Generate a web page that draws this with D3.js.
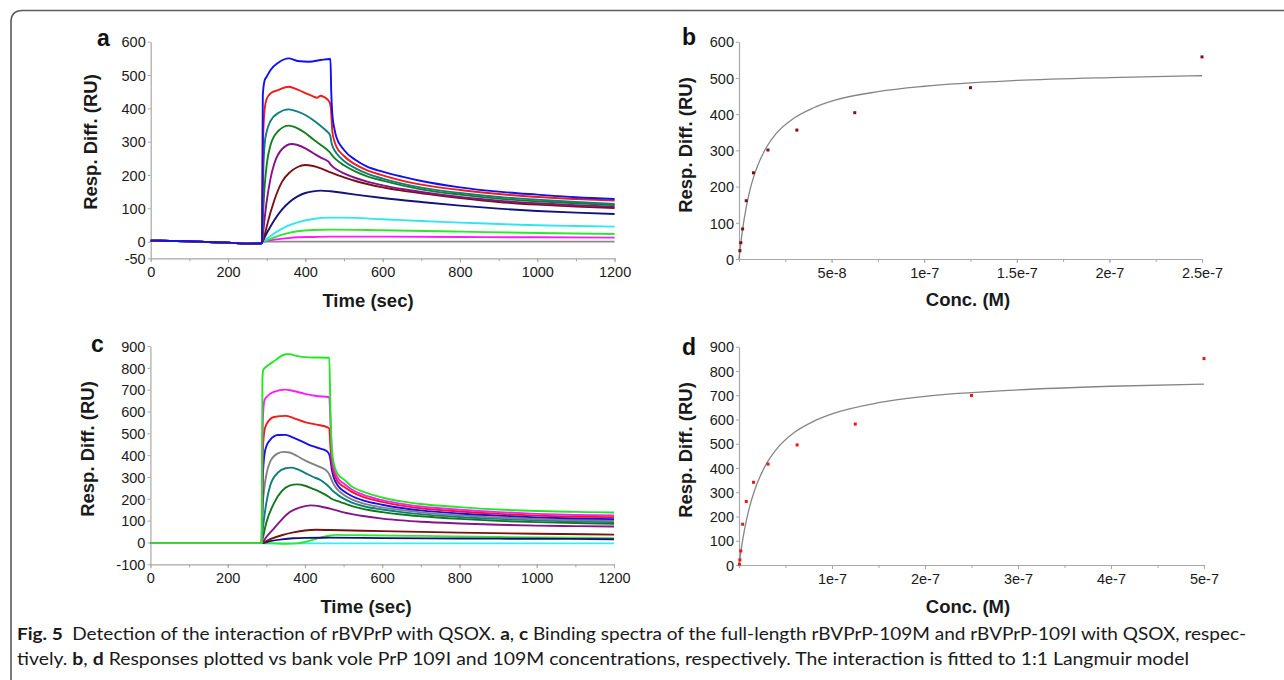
<!DOCTYPE html>
<html>
<head>
<meta charset="utf-8">
<script src="https://cdn.jsdelivr.net/npm/d3@7"></script>
<style>
  body { margin: 0; background: #fff; }
</style>
</head>
<body>
<div id="fig"></div>
<script>
/* ---------- panel a : sensorgram rBVPrP-109M (time sec, RU) ---------- */
var aBaseline = [[0,3],[50,2],[100,1],[150,-1],[200,-3],[255,-6],[286,-5]];
var aGray    = [[288,0],[1200,0]];
var aMagenta = [[288,-2],[300,2],[320,6],[350,10],[380,13],[420,14],[465,15],[600,15],[800,14],[1000,13],[1200,12]];
var aLime    = [[288,-2],[300,4],[320,13],[350,24],[380,31],[420,35],[465,36],[600,34],[800,30],[1000,26],[1200,23]];
var aCyan    = [[288,-2],[300,8],[320,25],[350,45],[380,58],[420,68],[465,72],[500,72],[600,67],[700,62],[800,57],[900,53],[1000,49],[1100,47],[1200,45]];
var aNavy    = [[288,-2],[300,25],[320,65],[340,97],[360,120],[380,136],[400,146],[420,151],[440,153],[465,151],[500,146],[550,138],[600,131],[700,119],[800,108],[900,99],[1000,92],[1100,87],[1200,83]];
var aMaroon  = [[288,-2],[295,20],[300,45],[320,125],[340,180],[360,208],[380,224],[400,230],[420,227],[440,220],[465,208],[480,201],[500,193],[530,182],[560,173],[600,163],[650,153],[700,145],[800,131],[900,119],[1000,111],[1100,105],[1200,101]];
var aPurple  = [[288,-2],[292,40],[300,120],[310,190],[320,235],[340,278],[365,293],[380,290],[400,280],[420,266],[440,252],[460,240],[465,232],[470,226],[480,217],[500,205],[530,191],[560,180],[600,169],[650,158],[700,149],[800,134],[900,123],[1000,115],[1100,109],[1200,105]];
var aGreen   = [[288,-2],[291,90],[295,170],[300,230],[310,290],[330,332],[357,348],[380,340],[400,326],[420,307],[440,290],[455,277],[465,266],[470,258],[480,246],[500,229],[530,210],[560,196],[600,183],[650,169],[700,157],[800,141],[900,129],[1000,121],[1100,115],[1200,110]];
var aTeal    = [[288,-2],[291,200],[295,295],[300,330],[310,362],[330,386],[357,397],[380,390],[400,380],[420,365],[440,347],[455,332],[464,320],[468,295],[475,275],[480,266],[500,242],[530,220],[560,204],[600,189],[650,174],[700,162],[800,146],[900,134],[1000,126],[1100,119],[1200,113]];
var aRed     = [[288,-2],[291,320],[295,400],[300,428],[310,445],[330,455],[357,465],[380,456],[400,446],[420,436],[430,432],[440,438],[450,433],[463,418],[466,400],[470,330],[475,302],[480,286],[500,257],[530,231],[560,214],[600,199],[650,183],[700,171],[800,155],[900,143],[1000,134],[1100,128],[1200,123]];
var aBlue    = [[288,-2],[290,440],[295,485],[300,495],[310,515],[330,537],[357,550],[380,542],[410,540],[440,545],[463,548],[465,548],[467,450],[470,380],[475,340],[480,315],[500,275],[530,245],[560,225],[600,210],[650,195],[700,182],[800,163],[900,150],[1000,141],[1100,133],[1200,128]];
var aColors  = ["#8a8a8a","#ff1aff","#2ee82e","#2ee6f2","#12127e","#7c0f14","#86108a","#13801e","#0d7f7f","#f21a1a","#1010f0"];

/* ---------- panel c : sensorgram rBVPrP-109I ---------- */
var cBaseline = [[0,-3],[100,-3],[200,-3],[286,-3]];
var cCyan     = [[288,-4],[1200,-4]];
var cLight    = [[288,-3],[320,-4],[350,-6],[380,-4],[400,2],[420,12],[440,22],[465,32],[480,35],[550,33],[700,30],[900,25],[1100,22],[1200,20]];
var cNavy     = [[288,-3],[310,6],[340,14],[370,19],[400,21],[465,22],[600,20],[800,18],[1000,17],[1200,15]];
var cMaroon   = [[288,-3],[310,15],[340,33],[370,46],[400,55],[430,58],[465,57],[600,52],[800,45],[1000,40],[1200,36]];
var cPurple   = [[288,-3],[300,25],[320,65],[340,105],[360,138],[390,162],[415,170],[440,165],[465,155],[500,138],[550,121],[600,109],[650,101],[700,95],[800,87],[900,81],[1000,77],[1100,75],[1200,73]];
var cDkGreen  = [[288,-3],[291,20],[300,90],[320,180],[340,235],[360,260],[380,266],[400,260],[420,246],[440,231],[455,217],[465,205],[470,199],[485,189],[500,180],[520,168],[550,154],[600,139],[650,128],[700,120],[800,108],[900,99],[1000,93],[1100,89],[1200,86]];
var cTeal     = [[288,-3],[291,60],[295,120],[300,180],[310,260],[330,320],[350,340],[365,343],[380,336],[400,319],[420,301],[440,286],[455,267],[465,250],[470,240],[478,228],[485,218],[500,201],[520,184],[550,167],[600,151],[650,139],[700,130],[800,117],[900,108],[1000,101],[1100,96],[1200,93]];
var cGray     = [[288,-3],[291,170],[295,250],[300,310],[310,370],[330,408],[345,415],[360,412],[380,396],[400,376],[420,360],[440,345],[455,330],[463,312],[466,300],[472,275],[478,256],[485,241],[500,219],[520,199],[550,179],[600,161],[650,148],[700,138],[800,124],[900,114],[1000,107],[1100,102],[1200,99]];
var cBlue     = [[288,-3],[291,300],[295,400],[300,440],[310,470],[330,492],[350,493],[370,480],[400,456],[420,441],[440,430],[455,420],[463,403],[466,380],[470,330],[475,295],[480,275],[490,250],[500,236],[520,214],[550,193],[600,173],[650,158],[700,147],[800,133],[900,123],[1000,115],[1100,110],[1200,107]];
var cRed      = [[288,-3],[291,420],[295,510],[300,540],[320,575],[350,580],[370,570],[400,551],[430,540],[460,526],[463,522],[466,440],[470,360],[475,318],[480,295],[490,268],[500,256],[520,233],[550,209],[600,186],[650,169],[700,157],[800,142],[900,131],[1000,123],[1100,118],[1200,116]];
var cMagenta  = [[288,-3],[291,560],[295,650],[300,665],[320,690],[350,700],[370,694],[400,681],[430,671],[463,665],[466,560],[470,400],[475,340],[480,312],[490,285],[500,271],[520,244],[550,219],[600,194],[650,177],[700,165],[800,150],[900,139],[1000,131],[1100,126],[1200,124]];
var cLime     = [[288,-3],[290,750],[292,790],[300,805],[320,830],[350,862],[360,863],[375,856],[410,848],[463,846],[466,600],[470,420],[475,360],[480,330],[490,303],[500,290],[520,258],[550,233],[600,206],[650,188],[700,176],[800,162],[900,151],[1000,144],[1100,140],[1200,137]];
var cColors   = ["#2ef0f8","#30e830","#10107c","#7a1010","#84148a","#10781a","#0e7f7f","#808080","#1010f0","#f21a1a","#ff1aff","#22e822"];

/* ---------- panel b : steady state 109M ---------- */
var bConc  = [4.9e-10, 9.8e-10, 1.95e-9, 3.9e-9, 7.8e-9, 1.5625e-8, 3.125e-8, 6.25e-8, 1.25e-7, 2.5e-7];
var bResp  = [23, 45, 83, 161, 238, 301, 356, 404, 473, 558];
var bFitConc = [0, 2e-9, 4e-9, 6e-9, 8e-9, 1e-8, 1.5e-8, 2e-8, 3e-8, 4e-8, 5e-8, 7.5e-8, 1e-7, 1.5e-7, 2e-7, 2.5e-7];
var bFitResp = [0, 84, 145, 192, 228, 257, 310, 346, 390, 417, 436, 462, 477, 493, 501, 506];

/* ---------- panel d : steady state 109I ---------- */
var dConc  = [4.9e-10, 9.8e-10, 1.95e-9, 3.9e-9, 7.8e-9, 1.5625e-8, 3.125e-8, 6.25e-8, 1.25e-7, 2.5e-7, 5e-7];
var dResp  = [3, 21, 58, 168, 262, 341, 416, 495, 581, 699, 851];
var dFitConc = [0, 4e-9, 8e-9, 1.2e-8, 1.6e-8, 2e-8, 3e-8, 4e-8, 6e-8, 8e-8, 1e-7, 1.5e-7, 2e-7, 3e-7, 4e-7, 5e-7];
var dFitResp = [0, 105, 185, 248, 299, 341, 421, 476, 548, 592, 623, 669, 695, 722, 737, 746];

var timeTicks = [0, 200, 400, 600, 800, 1000, 1200];
var aYTicks = [-50, 0, 100, 200, 300, 400, 500, 600];
var cYTicks = [-100, 0, 100, 200, 300, 400, 500, 600, 700, 800, 900];
var bTicks = [5e-8, 1e-7, 1.5e-7, 2e-7, 2.5e-7];
var bTickLabels = ["5e-8", "1e-7", "1.5e-7", "2e-7", "2.5e-7"];
var dTicks = [1e-7, 2e-7, 3e-7, 4e-7, 5e-7];
var dTickLabels = ["1e-7", "2e-7", "3e-7", "4e-7", "5e-7"];

var FONT = "'Liberation Sans', Arial, sans-serif";

var svg = d3.select("#fig").append("svg")
    .attr("width", 1284)
    .attr("height", 680);

// figure frame (top + left with rounded corner)
svg.append("path")
    .attr("d", "M11,682 L11,22 Q11,10.5 22.5,10.5 L1286,10.5")
    .attr("fill", "none")
    .attr("stroke", "#5a5a5a")
    .attr("stroke-width", 1.6);

function styleAxis(g) {
  g.attr("font-family", FONT).attr("font-size", 14.5);
  g.select(".domain").attr("stroke", "#a8a8a8").attr("stroke-width", 1.2);
  g.selectAll(".tick line").attr("stroke", "#a8a8a8");
  g.selectAll(".tick text").attr("fill", "#1a1a1a");
}

function drawAxes(x, y, opt) {
  var gx = svg.append("g")
      .attr("transform", "translate(0," + y.range()[0] + ")");
  gx.call(d3.axisBottom(x).tickValues(opt.xMinor).tickSize(3).tickFormat("").tickSizeOuter(0));
  styleAxis(gx);
  var gx2 = svg.append("g")
      .attr("transform", "translate(0," + y.range()[0] + ")")
      .call(d3.axisBottom(x).tickValues(opt.xTicks).tickSize(4).tickSizeOuter(0)
            .tickFormat(function(d, i) { return opt.xLabels ? opt.xLabels[i] : String(d); }));
  styleAxis(gx2);
  gx2.select(".domain").remove();
  gx2.selectAll(".tick text").attr("dy", "1.0em").attr("y", 4);

  var gy = svg.append("g")
      .attr("transform", "translate(" + x.range()[0] + ",0)")
      .call(d3.axisLeft(y).tickValues(opt.yTicks).tickSize(3).tickSizeOuter(0).tickPadding(2)
            .tickFormat(function(d) { return String(d); }));
  styleAxis(gy);
  gy.selectAll(".tick text").attr("dy", "0.36em");

  svg.append("text")
      .attr("font-family", FONT).attr("font-size", 18.5).attr("font-weight", "bold")
      .attr("fill", "#1a1a1a")
      .attr("text-anchor", "middle")
      .attr("x", opt.xTitle[0]).attr("y", opt.xTitle[1])
      .text(opt.xTitle[2]);
  svg.append("text")
      .attr("font-family", FONT).attr("font-size", 18.5).attr("font-weight", "bold")
      .attr("fill", "#1a1a1a")
      .attr("text-anchor", "middle")
      .attr("transform", "translate(" + opt.yTitle[0] + "," + opt.yTitle[1] + ") rotate(-90)")
      .text("Resp. Diff. (RU)");
  svg.append("text")
      .attr("font-family", FONT).attr("font-size", 23).attr("font-weight", "bold")
      .attr("fill", "#111")
      .attr("x", opt.letter[0]).attr("y", opt.letter[1])
      .text(opt.letter[2]);
}

function drawSensorgram(xr, yr, yDomain, yTicks, baseline, series, colors, letter, title) {
  var x = d3.scaleLinear().domain([0, 1200]).range(xr);
  var y = d3.scaleLinear().domain(yDomain).range(yr);
  drawAxes(x, y, {
    xTicks: timeTicks,
    xMinor: d3.range(0, 1201, 100),
    yTicks: yTicks,
    xTitle: [title[0], title[1], "Time (sec)"],
    yTitle: [letter[3], letter[4]],
    letter: letter
  });
  var line = d3.line()
      .x(function(d) { return x(d[0]); })
      .y(function(d) { return y(d[1]); })
      .curve(d3.curveMonotoneX);
  series.forEach(function(s, i) {
    svg.append("path")
        .attr("d", line(baseline.concat(s)))
        .attr("fill", "none")
        .attr("stroke", colors[i])
        .attr("stroke-width", 1.9)
        .attr("stroke-linejoin", "round");
  });
}

function drawLangmuir(xr, yr, xDomain, yDomain, yTicks, ticks, labels, minor, conc, resp, fitC, fitR, dotColor, letter, titleY) {
  var x = d3.scaleLinear().domain(xDomain).range(xr);
  var y = d3.scaleLinear().domain(yDomain).range(yr);
  drawAxes(x, y, {
    xTicks: ticks,
    xLabels: labels,
    xMinor: minor,
    yTicks: yTicks,
    xTitle: [968, titleY, "Conc. (M)"],
    yTitle: [letter[3], letter[4]],
    letter: letter
  });
  var fit = fitC.map(function(c, i) { return [c, fitR[i]]; });
  svg.append("path")
      .attr("d", d3.line()
          .x(function(d) { return x(d[0]); })
          .y(function(d) { return y(d[1]); })
          .curve(d3.curveMonotoneX)(fit))
      .attr("fill", "none")
      .attr("stroke", "#858585")
      .attr("stroke-width", 1.3);
  svg.selectAll(null)
      .data(conc.map(function(c, i) { return [c, resp[i]]; }))
      .enter().append("rect")
      .attr("x", function(d) { return x(d[0]) - 1.5; })
      .attr("y", function(d) { return y(d[1]) - 1.5; })
      .attr("width", 3).attr("height", 3)
      .attr("fill", dotColor);
}

drawSensorgram([150.7, 614.6], [258.3, 41.7], [-50, 600], aYTicks,
    aBaseline,
    [aGray, aMagenta, aLime, aCyan, aNavy, aMaroon, aPurple, aGreen, aTeal, aRed, aBlue],
    aColors, [97, 46, "a", 97, 142], [368, 307]);

drawSensorgram([150.4, 614], [564.3, 346], [-100, 900], cYTicks,
    cBaseline,
    [cCyan, cLight, cNavy, cMaroon, cPurple, cDkGreen, cTeal, cGray, cBlue, cRed, cMagenta, cLime],
    cColors, [91, 352, "c", 94, 449], [366, 613]);

drawLangmuir([739, 1202], [259, 41.7], [0, 2.5e-7], [0, 600], d3.range(0, 601, 100),
    bTicks, bTickLabels, d3.range(0, 2.51e-7, 2.5e-8),
    bConc, bResp, bFitConc, bFitResp, "#8b0a0a", [682, 45, "b", 692, 145], 306);

drawLangmuir([739, 1204], [565, 346.7], [0, 5e-7], [0, 900], d3.range(0, 901, 100),
    dTicks, dTickLabels, d3.range(0, 5.01e-7, 5e-8),
    dConc, dResp, dFitConc, dFitResp, "#f01414", [682, 355, "d", 692, 450], 613);

// caption
var cap1 = svg.append("text")
    .attr("font-family", "Lato, 'Open Sans', sans-serif").attr("font-size", 17.5).attr("fill", "#1a1a1a")
    .attr("x", 17).attr("y", 640)
    .attr("textLength", 1229).attr("lengthAdjust", "spacingAndGlyphs");
cap1.append("tspan").attr("font-weight", "bold").text("Fig. 5");
cap1.append("tspan").text("\u2002Detection of the interaction of rBVPrP with QSOX. ");
cap1.append("tspan").attr("font-weight", "bold").text("a");
cap1.append("tspan").text(", ");
cap1.append("tspan").attr("font-weight", "bold").text("c");
cap1.append("tspan").text(" Binding spectra of the full-length rBVPrP-109M and rBVPrP-109I with QSOX, respec-");

var cap2 = svg.append("text")
    .attr("font-family", "Lato, 'Open Sans', sans-serif").attr("font-size", 17.5).attr("fill", "#1a1a1a")
    .attr("x", 17).attr("y", 665)
    .attr("textLength", 1172).attr("lengthAdjust", "spacingAndGlyphs");
cap2.append("tspan").text("tively. ");
cap2.append("tspan").attr("font-weight", "bold").text("b");
cap2.append("tspan").text(", ");
cap2.append("tspan").attr("font-weight", "bold").text("d");
cap2.append("tspan").text(" Responses plotted vs bank vole PrP 109I and 109M concentrations, respectively. The interaction is fitted to 1:1 Langmuir model");
</script>
</body>
</html>
